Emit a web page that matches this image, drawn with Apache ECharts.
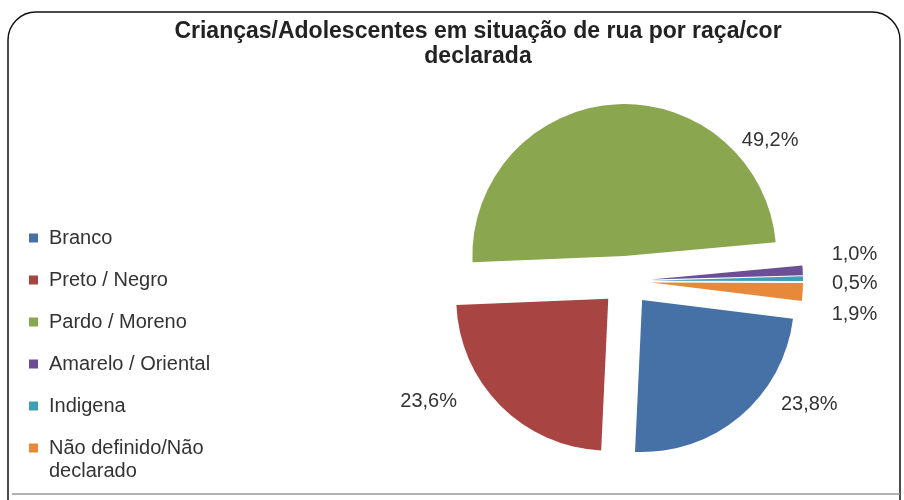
<!DOCTYPE html>
<html>
<head>
<meta charset="utf-8">
<script src="https://cdn.jsdelivr.net/npm/echarts@6/dist/echarts.min.js"></script>
<style>
html,body{margin:0;padding:0;background:#fff;}
#chart{width:904px;height:500px;}
</style>
</head>
<body>
<div id="chart"></div>
<script>
// Data
var categories = ['Branco', 'Preto / Negro', 'Pardo / Moreno', 'Amarelo / Oriental', 'Indigena', 'Não definido/Não declarado'];
var values = [23.8, 23.6, 49.2, 1.0, 0.5, 1.9];
var colors = ['#4571A6', '#A84442', '#8AA64E', '#6B4E96', '#3FA0B5', '#E8893A'];
var titleText = 'Crianças/Adolescentes em situação de rua por raça/cor\ndeclarada';

// style: nudges of each value label from its default outside spot (Excel "best fit" look)
var labelNudge = [[20, -21], [-22, -13], [198, 48], [4, -15], [4, 5], [4, 22]];

var FONT = '"Liberation Sans", Arial, sans-serif';
var chart = echarts.init(document.getElementById('chart'), null, {renderer: 'canvas'});

var pieData = categories.map(function (c, i) {
  return { name: c, value: values[i], selected: true, itemStyle: { color: colors[i] } };
});

var option = {
  animation: false,
  backgroundColor: '#fff',
  title: {
    text: titleText,
    left: 473,
    top: 14,
    textAlign: 'center',
    textStyle: { fontFamily: FONT, fontSize: 23, fontWeight: 'bold', color: '#222', lineHeight: 25 }
  },
  legend: {
    orient: 'vertical',
    left: 24,
    top: 223,
    icon: 'rect',
    itemWidth: 9,
    itemHeight: 9,
    itemGap: 22,
    selectedMode: false,
    formatter: function (name) {
      return name === categories[5] ? 'Não definido/Não' : name;
    },
    textStyle: { fontFamily: FONT, fontSize: 20, lineHeight: 20, color: '#333', padding: [0, 0, 0, 6] },
    data: categories
  },
  graphic: [
    { type: 'rect', silent: true, shape: { x: 8, y: 12, width: 892, height: 520, r: 28 },
      style: { fill: 'none', stroke: '#111', lineWidth: 1.5 } },
    { type: 'line', silent: true, shape: { x1: 12, y1: 494, x2: 900, y2: 494 },
      style: { stroke: '#999', lineWidth: 1.5 } },
    { type: 'text', silent: true, left: 49, top: 461,
      style: { text: 'declarado', font: '20px ' + FONT, fill: '#333' } }
  ],
  series: [{
    type: 'pie',
    center: [626, 281],
    radius: 152,
    startAngle: -7,
    clockwise: true,
    selectedMode: 'multiple',
    selectedOffset: 25,
    avoidLabelOverlap: false,
    emphasis: { disabled: true },
    label: {
      show: true,
      position: 'outside',
      fontFamily: FONT,
      fontSize: 20,
      color: '#333',
      formatter: function (p) { return p.value.toFixed(1).replace('.', ',') + '%'; }
    },
    labelLine: { show: false, length: 12, length2: 8 },
    labelLayout: function (p) {
      var n = labelNudge[p.dataIndex];
      return { dx: n[0], dy: n[1] };
    },
    data: pieData
  }]
};
chart.setOption(option);
</script>
</body>
</html>
